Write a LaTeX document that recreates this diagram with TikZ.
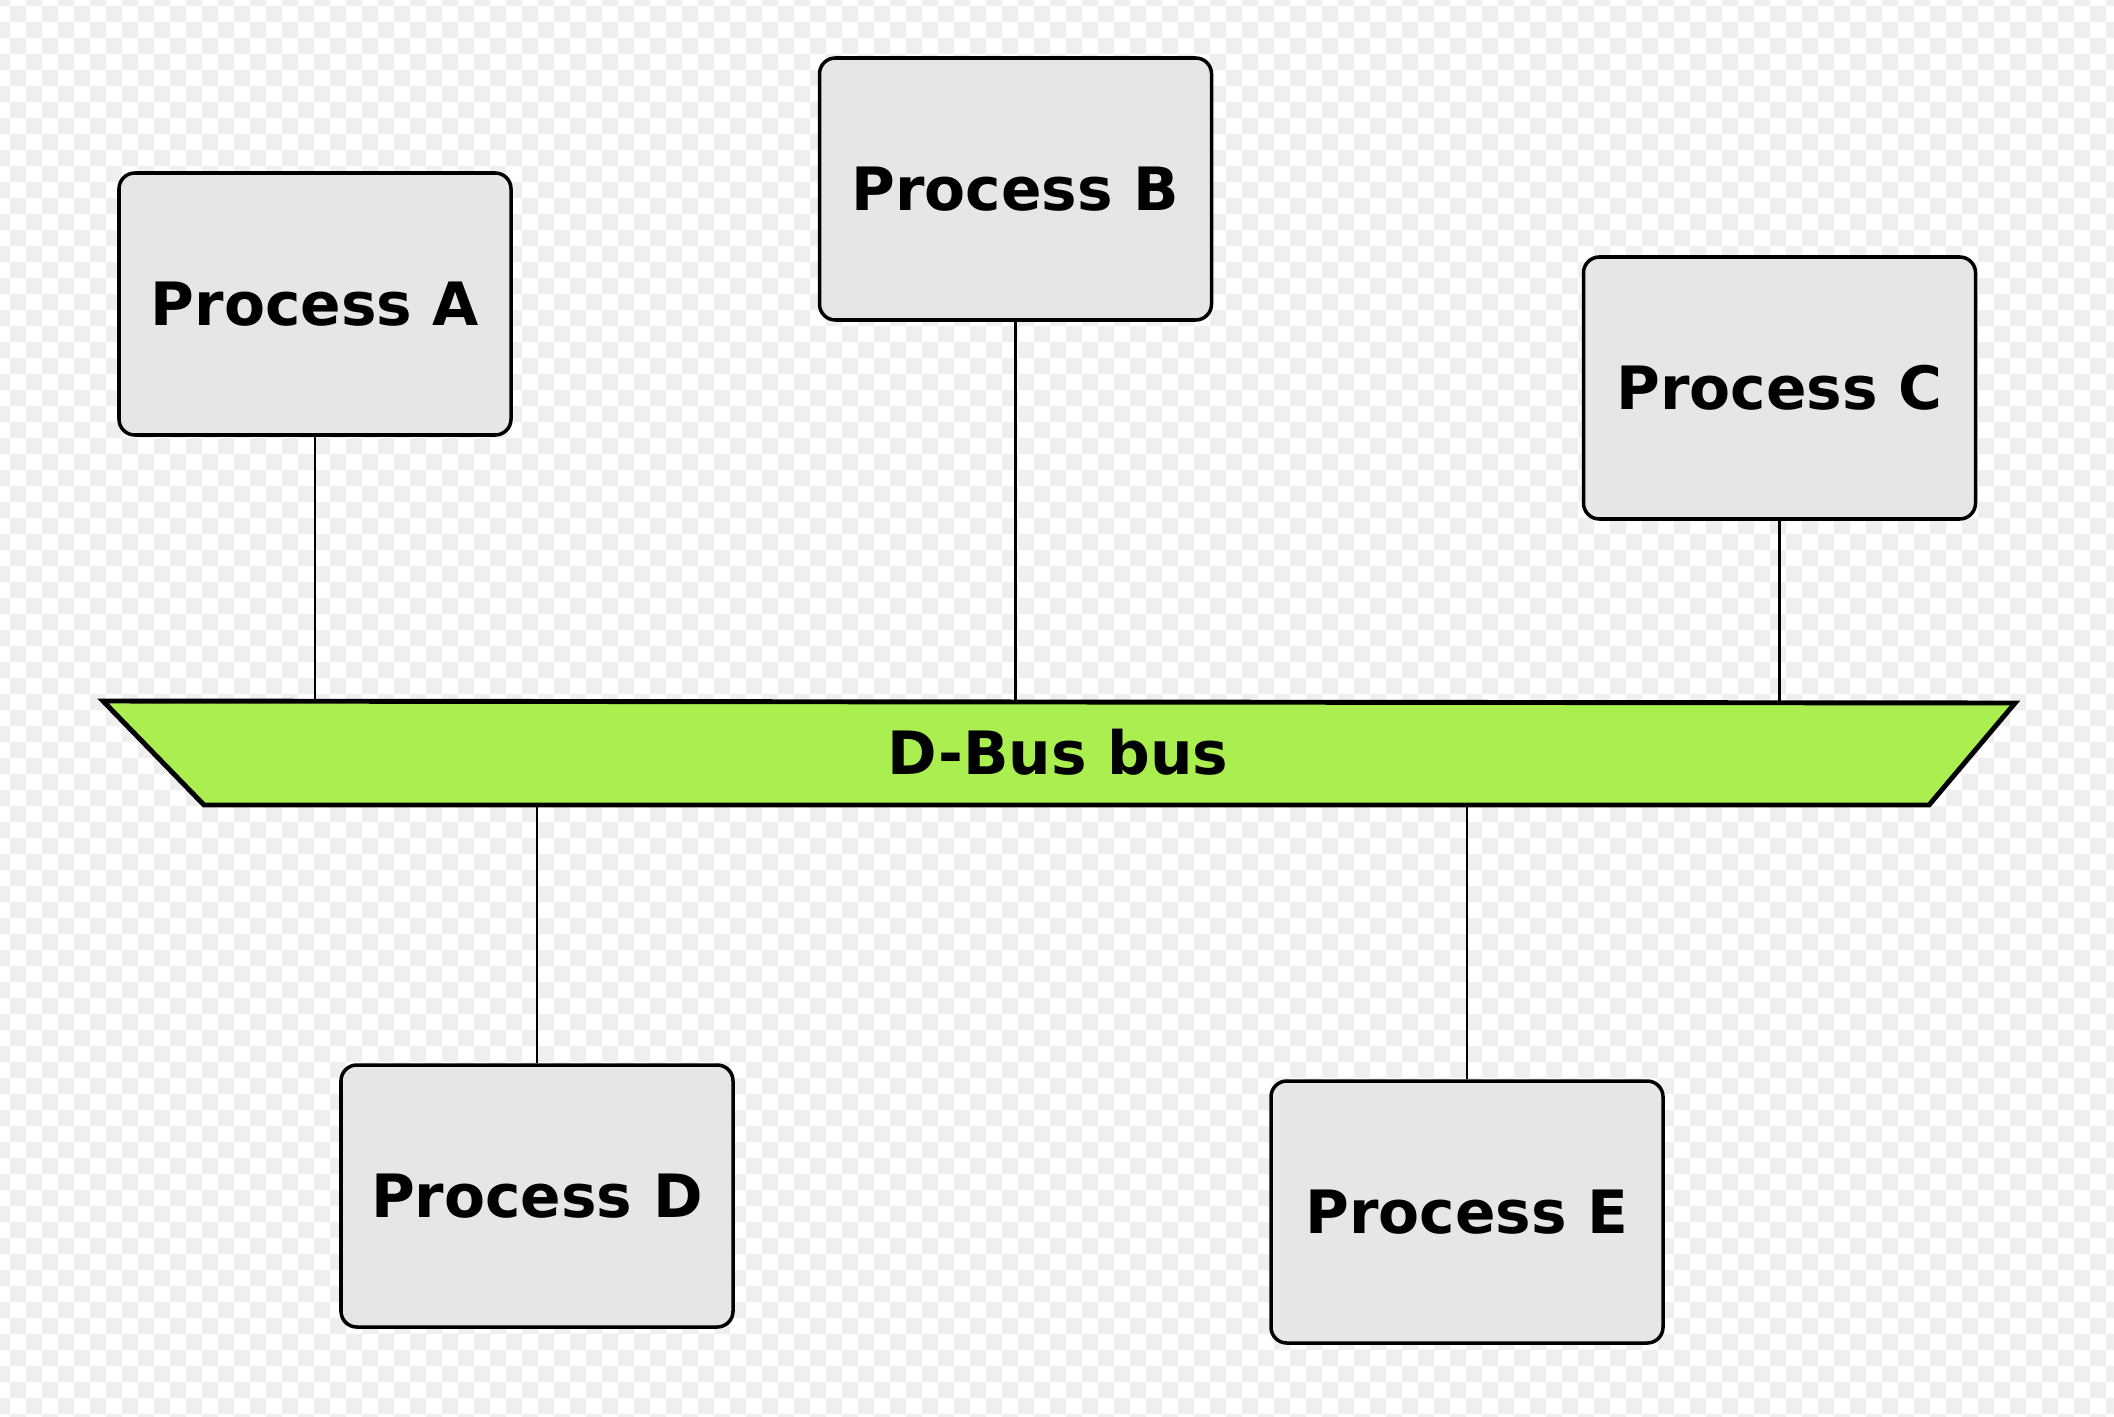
\documentclass[tikz,border=0pt]{standalone}
\usepackage{fontspec}
\setmainfont{DejaVu Sans}
\usetikzlibrary{positioning,calc}
\definecolor{BoxFill}{HTML}{E6E6E6}
\definecolor{BusFill}{HTML}{ABEE50}
\definecolor{Checker}{HTML}{EFEFEF}
\tikzset{
  process/.style={draw=black, fill=BoxFill, line width=1pt, rounded corners=4.5pt,
    minimum width=3.92cm, minimum height=2.62cm, inner sep=0pt,
    font=\fontsize{17}{20}\selectfont\bfseries},
  link/.style={draw=black, line width=0.6pt},
  busbar/.style={draw=black, fill=BusFill, line width=1.4pt, line join=miter},
}
\begin{document}
\begin{tikzpicture}
\useasboundingbox (0,0) rectangle (21.14,14.16);
% checkered background
\begin{scope}
  \clip (0,0) rectangle (21.14,14.16);
  \foreach \i in {0,...,66}{
    \foreach \j in {-1,...,44}{
      \fill[Checker] ({0.10+0.32*\i},{14.10-0.32*\j}) rectangle ++(0.16,-0.16)
           ({-0.06+0.32*\i},{13.94-0.32*\j}) rectangle ++(0.16,-0.16);
    }
  }
\end{scope}

% processes
\node[process] (procA) at (3.15,11.12) {Process A};
\node[process] (procB) at (10.155,12.27) {Process B};
\node[process] (procC) at (17.795,10.28) {Process C};
\node[process] (procD) at (5.37,2.20) {Process D};
\node[process] (procE) at (14.67,2.04) {Process E};

% bus outline
\coordinate (busTL) at (1.03,7.15);
\coordinate (busTR) at (20.15,7.13);
\coordinate (busBR) at (19.29,6.11);
\coordinate (busBL) at (2.04,6.11);

% connections
\draw[link] (procA.south) -- (procA.south |- busTL);
\draw[link] (procB.south) -- (procB.south |- busTL);
\draw[link] (procC.south) -- (procC.south |- busTL);
\draw[link] (procD.north) -- (procD.north |- busBL);
\draw[link] (procE.north) -- (procE.north |- busBL);

\draw[busbar] (busTL) -- (busTR) -- (busBR) -- (busBL) -- cycle;
\node[font=\fontsize{17}{20}\selectfont\bfseries] (busLabel) at (10.58,6.64) {D-Bus bus};
\end{tikzpicture}
\end{document}
